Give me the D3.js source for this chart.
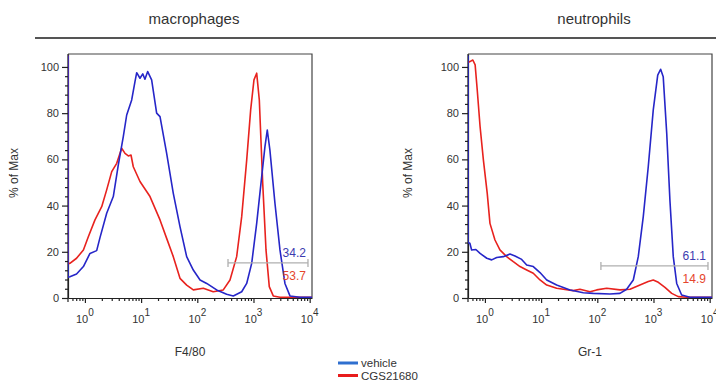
<!DOCTYPE html>
<html>
<head>
<meta charset="utf-8">
<script src="https://cdn.jsdelivr.net/npm/d3@7"></script>
<style>
  body { margin: 0; background: #fff; }
  svg { display: block; font-family: Arial, "Liberation Sans", sans-serif; }
</style>
</head>
<body>
<svg id="chart" width="716" height="381"></svg>
<script>
// ---- data ----
const panelTitles = ['macrophages', 'neutrophils'];
const axisLabels = ['F4/80', 'Gr-1'];
const seriesNames = ['vehicle', 'CGS21680'];
const decadeTicks = [1, 10, 100, 1000, 10000];
const yTicks = [0, 20, 40, 60, 80, 100];

// [intensity, % of max]
const macVehicle = [[0.5,105],[0.5,9],[0.54,9.2],[0.71,10.4],[0.94,13.6],[1.23,19.3],[1.62,20.5],[1.85,26],
  [2.44,36.7],[3.2,43.9],[3.93,57.6],[4.82,69.8],[5.54,79.2],[6.8,85.7],[7.78,93.6],[8.35,97.5],[9.55,95.1],
  [10.7,97],[11.7,94.7],[13.1,98],[15.4,94.4],[18.9,80],[21.7,78.5],[28.5,62.6],[37.4,45.3],[49.2,30.9],
  [64.7,17.9],[84.9,12.1],[112,7.8],[147,6.3],[221,3.5],[333,1.6],[437,0.9],[617,2.7],[757,6.3],[929,15],
  [1140,32.3],[1400,52.5],[1600,65.5],[1760,72.7],[1960,64],[2410,41],[2960,20.8],[3630,6.3],[4460,0.9],
  [6710,0.3],[11000,0.3]];
const macCGS = [[0.5,105],[0.5,15],[0.54,15],[0.71,17.2],[0.94,20.8],[1.15,26.5],[1.51,33.8],[1.99,39.5],
  [2.44,46.8],[3.0,54.7],[3.68,58.3],[4.51,64.8],[5.17,62.6],[5.92,61.5],[6.61,61.9],[7.26,56.8],[9.55,50.4],
  [14.4,43.9],[21.7,33.8],[28.5,25.8],[37.4,17.9],[49.2,8.5],[64.7,5.6],[84.9,3.5],[128,4.2],[192,2.7],
  [290,3.5],[382,7.8],[502,17.9],[617,35.2],[757,59.7],[891,81.4],[1020,94.4],[1140,97.3],[1270,85.7],
  [1460,49.6],[1670,20.8],[1910,4.9],[2250,0.9],[2960,0.3],[11000,0.3]];
const neuVehicle = [[0.5,105],[0.5,24],[0.54,23.7],[0.58,20.8],[0.69,21],[0.82,19.3],[1.08,17.2],[1.32,16.5],
  [1.62,17.5],[2.12,17.9],[2.79,19],[3.43,18.2],[4.51,16.7],[5.54,14.3],[7.26,13.6],[9.55,11],[12.6,7.8],
  [18.9,5.6],[32.7,3.5],[56.4,2.3],[84.9,2],[168,1.7],[253,2],[333,3.8],[437,7.8],[536,17.9],[658,35.2],
  [807,56.8],[991,81.4],[1190,96.5],[1340,99],[1490,95.8],[1720,71.3],[1960,42.4],[2250,17.9],[2590,6.3],
  [3170,1.3],[4460,0.3],[11000,0.3]];
const neuCGS = [[0.5,102],[0.54,102.3],[0.61,103],[0.67,100.9],[0.73,90],[0.82,74.2],[0.94,59.7],[1.10,45.3],
  [1.23,32.3],[1.51,25.1],[1.85,20.8],[2.44,17.9],[3.2,15.7],[4.21,13.6],[5.54,12.1],[7.26,10.7],[9.55,7.8],
  [12.6,5.6],[18.9,4.2],[37.4,3.2],[49.2,3.8],[74.1,2.7],[97.5,3.5],[147,4.2],[253,3.5],[382,3.8],[574,5.6],
  [807,7.1],[991,7.8],[1220,6.8],[1600,4.6],[2110,2],[2760,0.6],[3890,0.3],[11000,0.3]];

// gate: [from, to, level] and the % in gate for vehicle / CGS21680
const gateRanges = [[352, 9330, 15.2], [116, 9330, 13.9]];
const gateValues = [['34.2', '53.7'], ['61.1', '14.9']];

// ---- layout ----
const W = 244, H = 244;
const panelX = [68, 468], panelY = 54;
const yLabelX = [18, 412];
const curveColors = ['#2626c8', '#e8221e'];
const legendColors = ['#2f6fcf', '#e81c1c'];
const gateTextColors = ['#3b3bb0', '#e5452c'];

const svg = d3.select('#chart');

const x = d3.scaleLog().domain([0.5, 11000]).range([0, W]);
const y = d3.scaleLinear().domain([0, 105.6]).range([H, 0]);

const minorX = [];
[0.1, 1, 10, 100, 1000].forEach(d => {
  for (let k = 2; k <= 9; k++) {
    const v = k * d;
    if (v > 0.5 && v < 11000 && decadeTicks.indexOf(v) < 0) minorX.push(v);
  }
});
const minorY = d3.range(0, 104, 4).filter(v => v % 20 !== 0);

svg.append('line')
  .attr('x1', 35).attr('x2', 716).attr('y1', 38).attr('y2', 38)
  .attr('stroke', '#555').attr('stroke-width', 2);

const line = d3.line().x(d => x(d[0])).y(d => y(d[1]));

const panels = [
  { series: [macCGS, macVehicle] },
  { series: [neuCGS, neuVehicle] }
];

panels.forEach((p, i) => {
  const g = svg.append('g').attr('transform', `translate(${panelX[i]},${panelY})`);

  // title
  svg.append('text')
    .attr('x', panelX[i] + W / 2 + 4).attr('y', 24)
    .attr('text-anchor', 'middle')
    .style('font-size', '15px').style('fill', '#333')
    .text(panelTitles[i]);

  // frame top/right
  g.append('path').attr('d', `M0,0H${W}V${H}`)
    .attr('fill', 'none').attr('stroke', '#444').attr('stroke-width', 1.2);

  // y axis
  const yAxis = g.append('g')
    .call(d3.axisLeft(y).tickValues(yTicks).tickSize(6).tickSizeOuter(0).tickPadding(3));
  g.append('g')
    .call(d3.axisLeft(y).tickValues(minorY).tickSize(3).tickSizeOuter(0).tickFormat(''))
    .select('.domain').remove();
  yAxis.selectAll('text').style('font-size', '11px').style('fill', '#333').attr('font-family', null);
  g.append('line').attr('x1', 0).attr('x2', 0).attr('y1', 0).attr('y2', H + 4)
    .attr('stroke', '#222').attr('stroke-width', 1.2);

  // x axis
  g.append('g').attr('transform', `translate(0,${H})`)
    .call(d3.axisBottom(x).tickValues(decadeTicks).tickSize(5).tickSizeOuter(0).tickFormat(''));
  g.append('g').attr('transform', `translate(0,${H})`)
    .call(d3.axisBottom(x).tickValues(minorX).tickSize(3).tickSizeOuter(0).tickFormat(''))
    .select('.domain').remove();
  g.selectAll('.domain, .tick line').attr('stroke', '#222').attr('stroke-width', 1.2);

  const lbl = g.append('g').selectAll('text').data(decadeTicks).enter().append('text')
    .attr('x', d => x(d)).attr('y', H + 25)
    .attr('text-anchor', 'middle')
    .style('font-size', '11px').style('fill', '#333');
  lbl.append('tspan').text('10');
  lbl.append('tspan').attr('dy', -7).style('font-size', '10px').text(d => Math.round(Math.log10(d)));

  // axis titles
  svg.append('text')
    .attr('transform', `translate(${yLabelX[i]},${panelY + 119}) rotate(-90)`)
    .attr('text-anchor', 'middle')
    .style('font-size', '12px').style('fill', '#333')
    .text('% of Max');
  svg.append('text')
    .attr('x', panelX[i] + W / 2).attr('y', 356)
    .attr('text-anchor', 'middle')
    .style('font-size', '12px').style('fill', '#333')
    .text(axisLabels[i]);

  // curves
  const clipId = 'clip' + i;
  g.append('clipPath').attr('id', clipId)
    .append('rect').attr('x', 0).attr('y', 0).attr('width', W).attr('height', H + 1);
  const curves = g.append('g').attr('clip-path', `url(#${clipId})`);
  curves.selectAll('path').data(p.series).enter().append('path')
    .attr('d', line)
    .attr('fill', 'none')
    .attr('stroke', (d, j) => curveColors[1 - j])
    .attr('stroke-width', 1.6)
    .attr('stroke-linejoin', 'round');

  // gate
  const gr = gateRanges[i];
  const gy = y(gr[2]);
  g.append('path')
    .attr('d', `M${x(gr[0])},${gy - 4}V${gy + 4}M${x(gr[0])},${gy}H${x(gr[1])}M${x(gr[1])},${gy - 4}V${gy + 4}`)
    .attr('fill', 'none').attr('stroke', '#b0b0b0').attr('stroke-width', 1.3);
  gateValues[i].forEach((v, j) => {
    g.append('text')
      .attr('x', x(gr[1]) - 2).attr('y', j === 0 ? gy - 6 : gy + 17)
      .attr('text-anchor', 'end')
      .style('font-size', '12px').style('fill', gateTextColors[j])
      .text(v);
  });
});

// legend
const leg = svg.append('g').attr('transform', 'translate(338,363)');
seriesNames.forEach((s, j) => {
  leg.append('line').attr('x1', 0).attr('x2', 20).attr('y1', j * 12.5).attr('y2', j * 12.5)
    .attr('stroke', legendColors[j]).attr('stroke-width', 3);
  leg.append('text').attr('x', 23).attr('y', j * 12.5 + 4)
    .style('font-size', '11.5px').style('fill', '#333')
    .text(s);
});
</script>
</body>
</html>
